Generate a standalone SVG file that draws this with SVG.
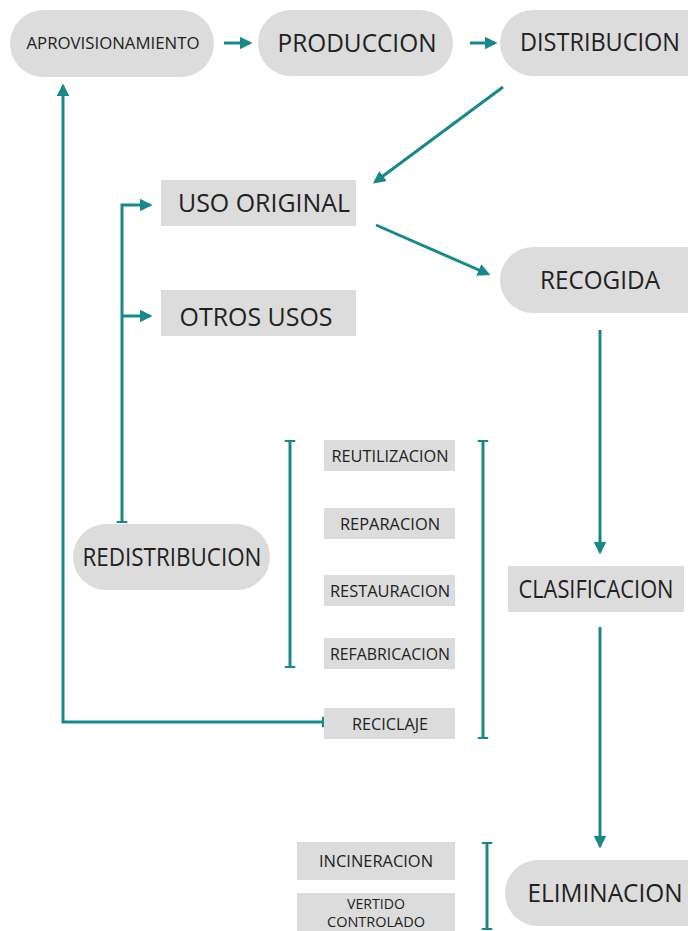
<svg xmlns="http://www.w3.org/2000/svg" width="688" height="931" viewBox="0 0 688 931">
<defs>
<style>
.pill{fill:#dcdcdc}
.box{fill:#dcdcdc}
.t{font-family:"Open Sans","Noto Sans","Liberation Sans",sans-serif;fill:#222;text-anchor:middle}
.big{font-size:25px}
.sm{font-size:16px}
.c{stroke:#1a8888;stroke-width:3;fill:none}
</style>
<marker id="ah" viewBox="0 0 10 10" refX="8" refY="5" markerWidth="4.2" markerHeight="4.2" markerUnits="strokeWidth" orient="auto">
<path d="M0,0 L10,5 L0,10 z" fill="#1a8888"/>
</marker>
<marker id="tb" viewBox="0 0 2 10" refX="1" refY="5" markerWidth="0.7" markerHeight="4" markerUnits="strokeWidth" orient="auto">
<rect x="0" y="0" width="2" height="10" fill="#1a8888"/>
</marker>
</defs>
<rect width="688" height="931" fill="#ffffff"/>
<g id="aprovisionamiento"><rect class="pill" x="10" y="10" width="204" height="67" rx="33.5"/><text class="t" x="113" y="49" font-size="16" textLength="173" lengthAdjust="spacingAndGlyphs">APROVISIONAMIENTO</text></g>
<g id="produccion"><rect class="pill" x="258" y="10" width="195" height="66" rx="33"/><text class="t big" x="357" y="52" textLength="159" lengthAdjust="spacingAndGlyphs">PRODUCCION</text></g>
<g id="distribucion"><rect class="pill" x="500" y="10" width="230" height="66" rx="33"/><text class="t big" x="600" y="51" textLength="160" lengthAdjust="spacingAndGlyphs">DISTRIBUCION</text></g>
<g id="uso-original"><rect class="box" x="161" y="180" width="195" height="46"/><text class="t big" x="264" y="212" textLength="172" lengthAdjust="spacingAndGlyphs">USO ORIGINAL</text></g>
<g id="otros-usos"><rect class="box" x="161" y="290" width="195" height="46"/><text class="t big" x="256" y="326" textLength="153" lengthAdjust="spacingAndGlyphs">OTROS USOS</text></g>
<g id="recogida"><rect class="pill" x="500" y="247" width="230" height="66" rx="33"/><text class="t big" x="600" y="289" textLength="120" lengthAdjust="spacingAndGlyphs">RECOGIDA</text></g>
<g id="redistribucion"><rect class="pill" x="73" y="524" width="197" height="66" rx="33"/><text class="t big" x="172" y="566" textLength="179" lengthAdjust="spacingAndGlyphs">REDISTRIBUCION</text></g>
<g id="reutilizacion"><rect class="box" x="324" y="440" width="131" height="31"/><text class="t sm" x="390" y="462" textLength="117" lengthAdjust="spacingAndGlyphs">REUTILIZACION</text></g>
<g id="reparacion"><rect class="box" x="324" y="508" width="131" height="31"/><text class="t sm" x="390" y="530" textLength="100" lengthAdjust="spacingAndGlyphs">REPARACION</text></g>
<g id="restauracion"><rect class="box" x="324" y="575" width="131" height="31"/><text class="t sm" x="390" y="597" textLength="120" lengthAdjust="spacingAndGlyphs">RESTAURACION</text></g>
<g id="refabricacion"><rect class="box" x="324" y="638" width="131" height="31"/><text class="t sm" x="390" y="660" textLength="120" lengthAdjust="spacingAndGlyphs">REFABRICACION</text></g>
<g id="reciclaje"><rect class="box" x="324" y="708" width="131" height="31"/><text class="t sm" x="390" y="730" textLength="76" lengthAdjust="spacingAndGlyphs">RECICLAJE</text></g>
<g id="clasificacion"><rect class="box" x="508" y="566" width="176" height="46"/><text class="t big" x="596" y="598" textLength="155" lengthAdjust="spacingAndGlyphs">CLASIFICACION</text></g>
<g id="eliminacion"><rect class="pill" x="505" y="860" width="230" height="66" rx="33"/><text class="t big" x="605" y="902" textLength="155" lengthAdjust="spacingAndGlyphs">ELIMINACION</text></g>
<g id="incineracion"><rect class="box" x="297" y="842" width="158" height="38"/><text class="t sm" x="376" y="867" textLength="114" lengthAdjust="spacingAndGlyphs">INCINERACION</text></g>
<g id="vertido-controlado"><rect class="box" x="297" y="893" width="158" height="40"/><text class="t" font-size="14" x="376" y="909" textLength="58" lengthAdjust="spacingAndGlyphs">VERTIDO</text><text class="t" font-size="14" x="376" y="927" textLength="98" lengthAdjust="spacingAndGlyphs">CONTROLADO</text></g>
<g id="connectors">
<line class="c" x1="224" y1="43" x2="250" y2="43" marker-end="url(#ah)"/>
<line class="c" x1="470" y1="43" x2="495" y2="43" marker-end="url(#ah)"/>
<line class="c" x1="503" y1="87" x2="375" y2="182" marker-end="url(#ah)"/>
<line class="c" x1="376" y1="225" x2="488" y2="274" marker-end="url(#ah)"/>
<line class="c" x1="600" y1="330" x2="600" y2="552" marker-end="url(#ah)"/>
<line class="c" x1="600" y1="627" x2="600" y2="846" marker-end="url(#ah)"/>
<path class="c" d="M122,522 V205 H150" marker-start="url(#tb)" marker-end="url(#ah)"/>
<line class="c" x1="122" y1="316" x2="150" y2="316" marker-end="url(#ah)"/>
<path class="c" d="M323,722 H63 V86" marker-start="url(#tb)" marker-end="url(#ah)"/>
<line class="c" x1="290" y1="441" x2="290" y2="667" marker-start="url(#tb)" marker-end="url(#tb)"/>
<line class="c" x1="483" y1="441" x2="483" y2="738" marker-start="url(#tb)" marker-end="url(#tb)"/>
<line class="c" x1="487" y1="843" x2="487" y2="929" marker-start="url(#tb)" marker-end="url(#tb)"/>
</g>
</svg>
